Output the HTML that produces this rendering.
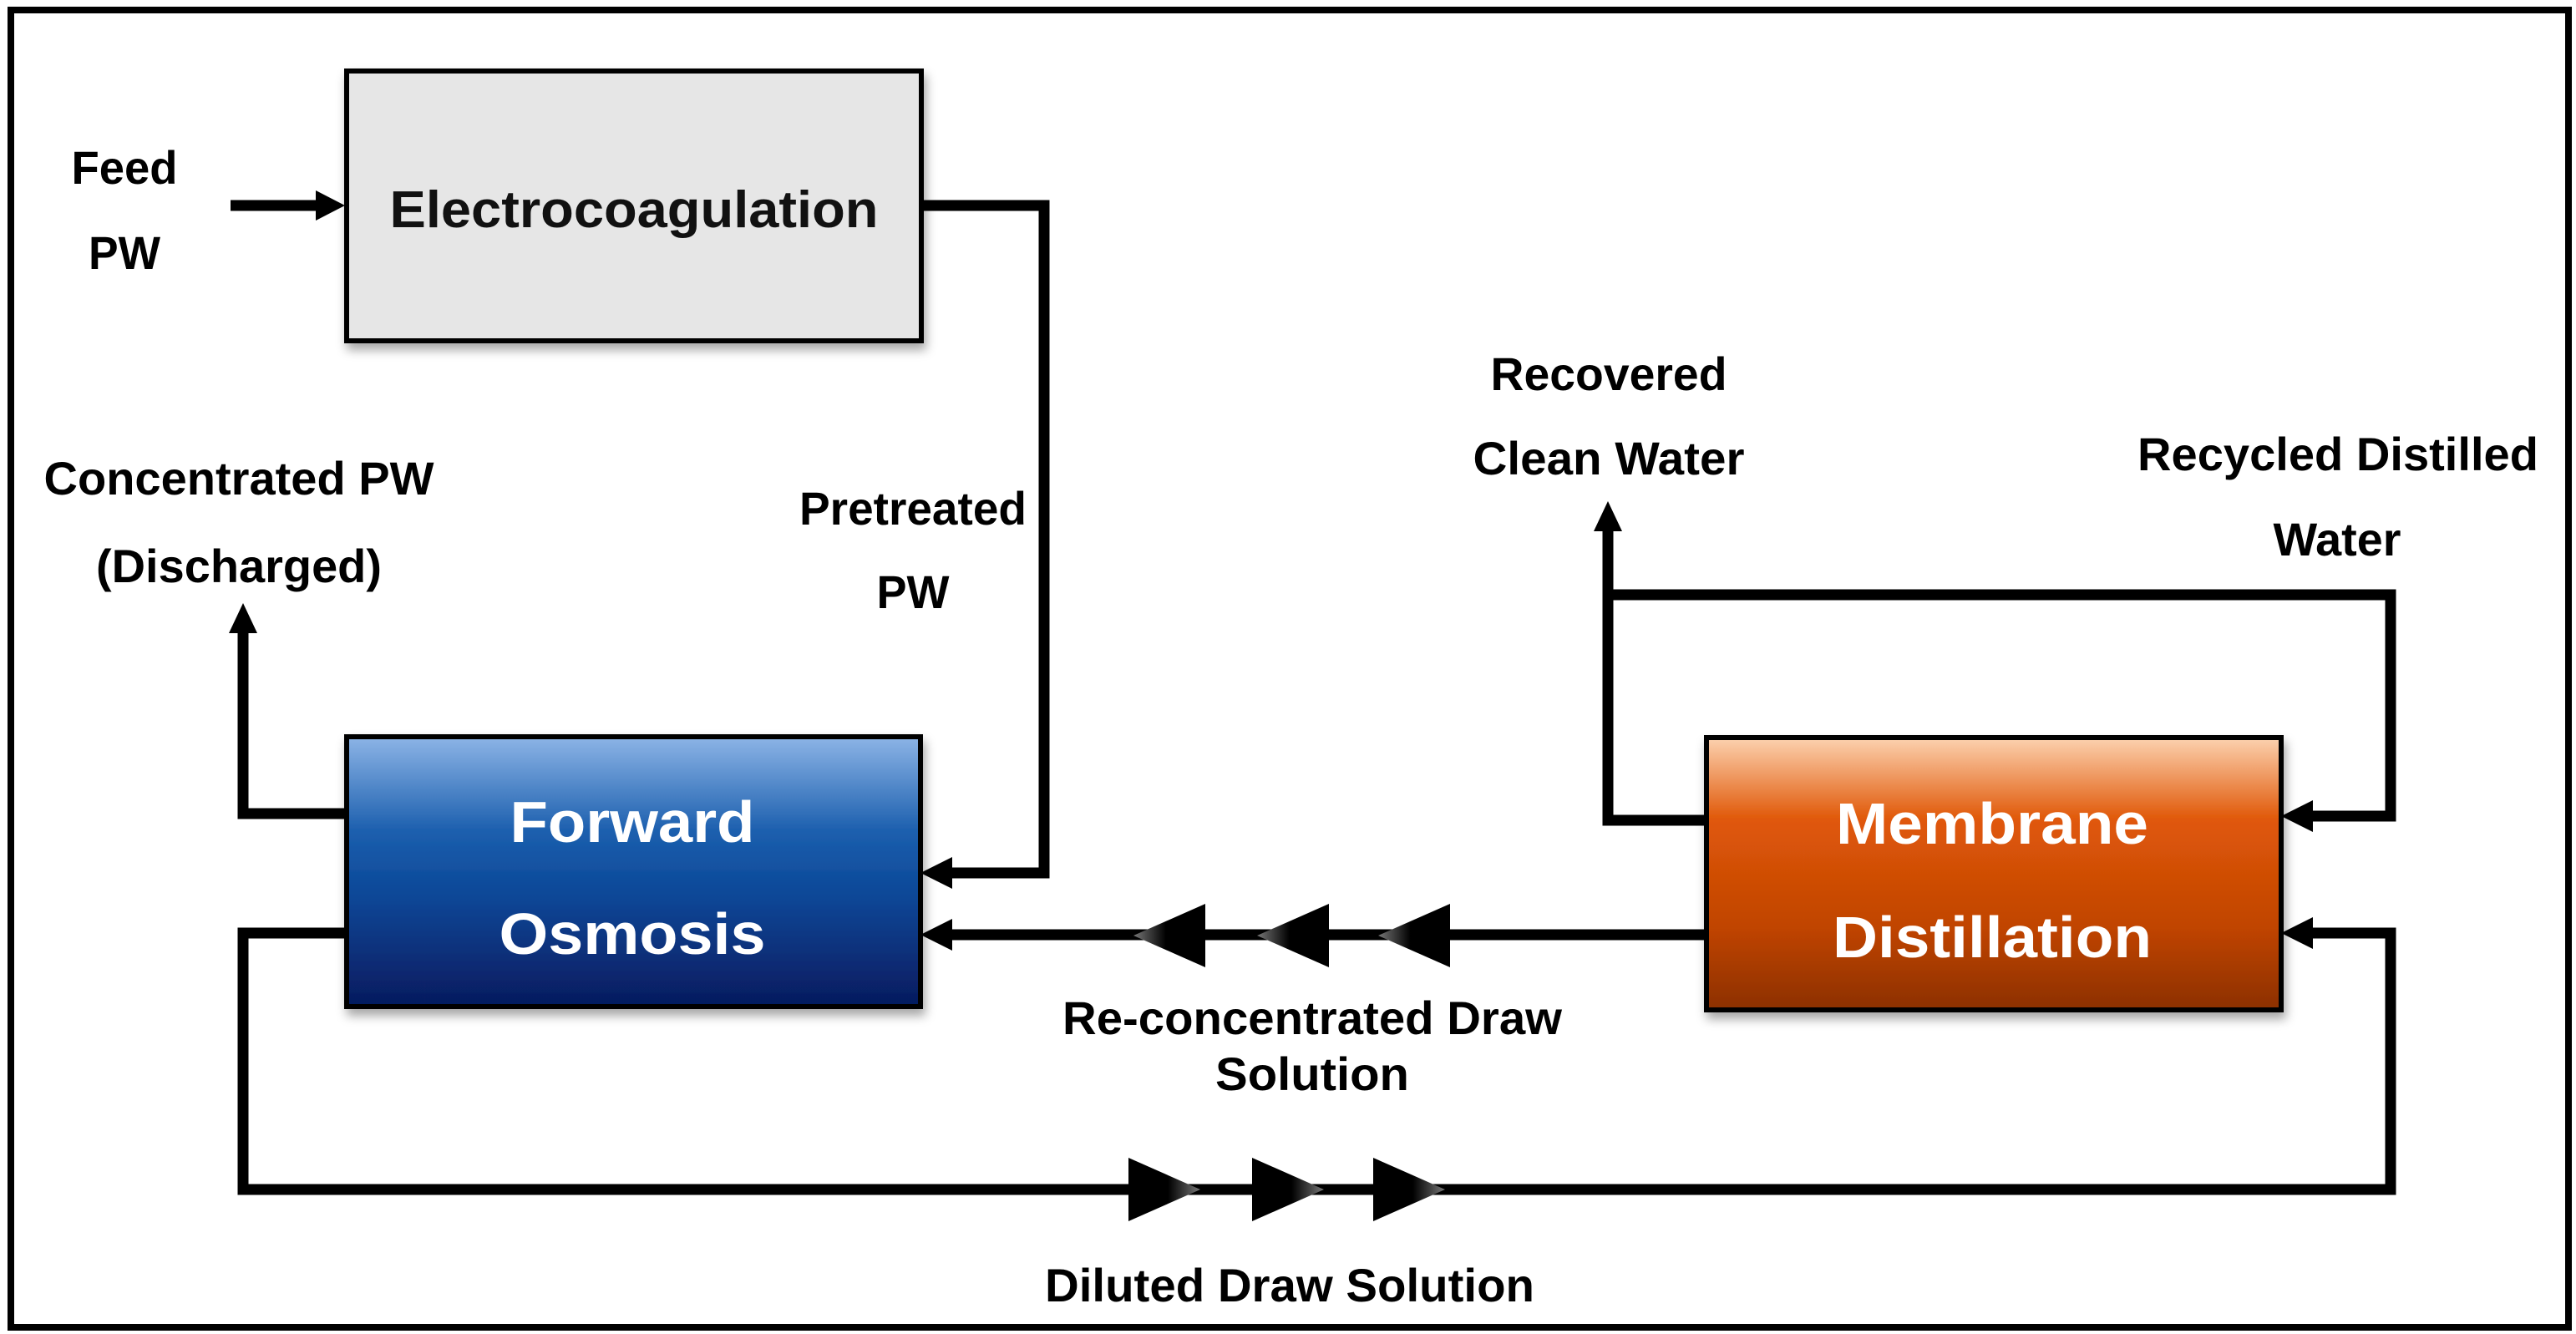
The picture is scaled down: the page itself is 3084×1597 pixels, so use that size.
<!DOCTYPE html>
<html><head><meta charset="utf-8"><style>
html,body{margin:0;padding:0;background:#fff;}
svg{display:block;}
text{font-family:"Liberation Sans",Arial,sans-serif;font-weight:bold;}
</style></head><body>
<svg width="3084" height="1597" viewBox="0 0 3084 1597" xmlns="http://www.w3.org/2000/svg">
<defs>
<linearGradient id="fo" x1="0" y1="0" x2="0" y2="1">
<stop offset="0" stop-color="#8cb4e6"/>
<stop offset="0.35" stop-color="#1c5fae"/>
<stop offset="0.6" stop-color="#0a4696"/>
<stop offset="1" stop-color="#061a5e"/>
</linearGradient>
<linearGradient id="md" x1="0" y1="0" x2="0" y2="1">
<stop offset="0" stop-color="#fcd2b0"/>
<stop offset="0.3" stop-color="#e05808"/>
<stop offset="0.7" stop-color="#c04404"/>
<stop offset="1" stop-color="#8c3000"/>
</linearGradient>
<linearGradient id="tl" x1="0" y1="0" x2="1" y2="0">
<stop offset="0" stop-color="#777"/><stop offset="0.45" stop-color="#000"/><stop offset="1" stop-color="#000"/>
</linearGradient>
<linearGradient id="tr" x1="1" y1="0" x2="0" y2="0">
<stop offset="0" stop-color="#777"/><stop offset="0.45" stop-color="#000"/><stop offset="1" stop-color="#000"/>
</linearGradient>
<filter id="sh" x="-5%" y="-5%" width="115%" height="120%"><feDropShadow dx="3" dy="8" stdDeviation="6" flood-opacity="0.35"/></filter>
</defs>
<rect x="13" y="12" width="3062" height="1577" fill="none" stroke="#000" stroke-width="8"/>

<rect x="415" y="85" width="688" height="323" fill="#e6e6e6" stroke="#000" stroke-width="6" filter="url(#sh)"/>
<rect x="415" y="882" width="687" height="323" fill="url(#fo)" stroke="#000" stroke-width="6" filter="url(#sh)"/>
<rect x="2043" y="883" width="688" height="326" fill="url(#md)" stroke="#000" stroke-width="6" filter="url(#sh)"/>

<g fill="none" stroke="#000" stroke-width="13">
<line x1="276" y1="246" x2="385" y2="246"/>
<polyline points="1103,246 1250,246 1250,1045 1135,1045"/>
<polyline points="415,974 291,974 291,750"/>
<polyline points="415,1117 291,1117 291,1424 2862,1424 2862,1117 2765,1117"/>
<line x1="2043" y1="1119" x2="1135" y2="1119"/>
<polyline points="2043,982 1925,982 1925,712 2862,712 2862,977 2765,977"/>
<line x1="1925" y1="712" x2="1925" y2="630"/>
</g>
<g fill="#000">
<polygon points="413,246 378,228 378,264"/>
<polygon points="1102,1045 1140,1026 1140,1064"/>
<polygon points="1102,1119 1140,1100 1140,1138"/>
<polygon points="2731,977 2769,958 2769,996"/>
<polygon points="2731,1117 2769,1098 2769,1136"/>
<polygon points="291,722 274,758 308,758"/>
<polygon points="1925,600 1908,636 1942,636"/>
</g>
<g fill="url(#tl)">
<polygon points="1357,1120 1443,1082 1443,1158"/>
<polygon points="1505,1120 1591,1082 1591,1158"/>
<polygon points="1650,1120 1736,1082 1736,1158"/>
</g>
<g fill="url(#tr)">
<polygon points="1437,1424 1351,1386 1351,1462"/>
<polygon points="1585,1424 1499,1386 1499,1462"/>
<polygon points="1730,1424 1644,1386 1644,1462"/>
</g>

<g fill="#000" font-size="56" text-anchor="middle">
<text x="149" y="220" textLength="127" lengthAdjust="spacingAndGlyphs">Feed</text>
<text x="149" y="322" textLength="86" lengthAdjust="spacingAndGlyphs">PW</text>
<text x="286" y="592" textLength="467" lengthAdjust="spacingAndGlyphs">Concentrated PW</text>
<text x="286" y="697" textLength="342" lengthAdjust="spacingAndGlyphs">(Discharged)</text>
<text x="1093" y="628" textLength="272" lengthAdjust="spacingAndGlyphs">Pretreated</text>
<text x="1093" y="728" textLength="87" lengthAdjust="spacingAndGlyphs">PW</text>
<text x="1926" y="467" textLength="283" lengthAdjust="spacingAndGlyphs">Recovered</text>
<text x="1926" y="568" textLength="325" lengthAdjust="spacingAndGlyphs">Clean Water</text>
<text x="2799" y="563" textLength="480" lengthAdjust="spacingAndGlyphs">Recycled Distilled</text>
<text x="2798" y="665" textLength="153" lengthAdjust="spacingAndGlyphs">Water</text>
<text x="1571" y="1238" textLength="598" lengthAdjust="spacingAndGlyphs">Re-concentrated Draw</text>
<text x="1571" y="1305" textLength="232" lengthAdjust="spacingAndGlyphs">Solution</text>
<text x="1544" y="1558" textLength="586" lengthAdjust="spacingAndGlyphs">Diluted Draw Solution</text>
</g>
<text x="759" y="272" font-size="62" text-anchor="middle" fill="#111" textLength="585" lengthAdjust="spacingAndGlyphs">Electrocoagulation</text>
<g fill="#fff" font-size="70" text-anchor="middle">
<text x="757" y="1008" textLength="293" lengthAdjust="spacingAndGlyphs">Forward</text>
<text x="757" y="1142" textLength="319" lengthAdjust="spacingAndGlyphs">Osmosis</text>
<text x="2385" y="1010" textLength="374" lengthAdjust="spacingAndGlyphs">Membrane</text>
<text x="2385" y="1146" textLength="382" lengthAdjust="spacingAndGlyphs">Distillation</text>
</g>
</svg>
</body></html>
